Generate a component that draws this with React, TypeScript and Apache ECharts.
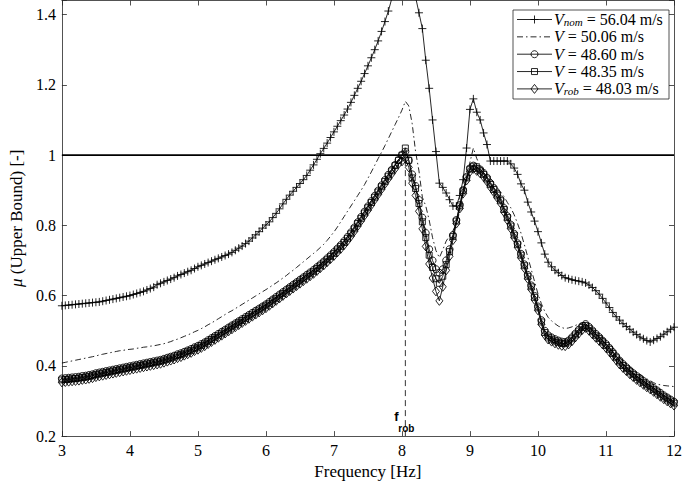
import React, { useEffect, useRef } from 'react';
import * as echarts from 'echarts';

// Frequency sampling grid (Hz), 0.05 Hz step from 3 to 12
const FREQ: number[] = Array.from({ length: 181 }, (_, i) => Math.round((3 + i * 0.05) * 100) / 100);

// V_nom = 56.04 m/s
const V_NOM = [
  0.571, 0.572, 0.573, 0.574, 0.575, 0.576, 0.577, 0.578, 0.579, 0.580,
  0.581, 0.582, 0.584, 0.586, 0.588, 0.590, 0.592, 0.594, 0.596, 0.598,
  0.600, 0.603, 0.606, 0.609, 0.612, 0.616, 0.620, 0.624, 0.631, 0.635,
  0.639, 0.643, 0.647, 0.651, 0.656, 0.660, 0.664, 0.668, 0.672, 0.677,
  0.682, 0.686, 0.690, 0.694, 0.698, 0.702, 0.706, 0.710, 0.714, 0.718,
  0.723, 0.729, 0.735, 0.741, 0.748, 0.755, 0.764, 0.773, 0.782, 0.792,
  0.801, 0.810, 0.822, 0.834, 0.847, 0.861, 0.874, 0.886, 0.897, 0.908,
  0.919, 0.930, 0.942, 0.957, 0.972, 0.988, 1.004, 1.019, 1.034, 1.050,
  1.066, 1.082, 1.098, 1.114, 1.131, 1.150, 1.170, 1.190, 1.210, 1.232,
  1.254, 1.277, 1.300, 1.325, 1.352, 1.380, 1.410, 1.445, 1.490, 1.530,
  1.570, 1.590, 1.560, 1.510, 1.450, 1.405, 1.360, 1.270, 1.190, 1.100,
  1.010, 0.920, 0.908, 0.892, 0.873, 0.855, 0.855, 0.885, 0.930, 1.020,
  1.130, 1.160, 1.122, 1.100, 1.063, 1.030, 0.983, 0.983, 0.983, 0.983,
  0.983, 0.983, 0.975, 0.963, 0.945, 0.918, 0.900, 0.866, 0.838, 0.812,
  0.782, 0.750, 0.718, 0.695, 0.682, 0.672, 0.665, 0.657, 0.651, 0.648,
  0.645, 0.643, 0.641, 0.639, 0.636, 0.630, 0.623, 0.614, 0.604, 0.592,
  0.579, 0.566, 0.552, 0.540, 0.530, 0.520, 0.512, 0.504, 0.496, 0.489,
  0.482, 0.477, 0.472, 0.468, 0.473, 0.478, 0.483, 0.490, 0.497, 0.504,
  0.510,
];

// V = 50.06 m/s
const V_5006 = [
  0.408, 0.410, 0.412, 0.414, 0.416, 0.418, 0.420, 0.422, 0.424, 0.426,
  0.428, 0.431, 0.433, 0.435, 0.437, 0.439, 0.441, 0.443, 0.444, 0.446,
  0.447, 0.448, 0.450, 0.451, 0.453, 0.454, 0.456, 0.457, 0.459, 0.461,
  0.463, 0.466, 0.469, 0.473, 0.476, 0.480, 0.484, 0.488, 0.492, 0.497,
  0.501, 0.506, 0.511, 0.517, 0.522, 0.528, 0.534, 0.540, 0.546, 0.552,
  0.557, 0.563, 0.569, 0.575, 0.581, 0.587, 0.593, 0.599, 0.605, 0.611,
  0.617, 0.623, 0.630, 0.636, 0.643, 0.650, 0.657, 0.665, 0.672, 0.680,
  0.688, 0.696, 0.704, 0.712, 0.720, 0.728, 0.737, 0.746, 0.757, 0.769,
  0.781, 0.795, 0.810, 0.825, 0.840, 0.855, 0.870, 0.885, 0.900, 0.916,
  0.934, 0.952, 0.971, 0.990, 1.008, 1.027, 1.047, 1.067, 1.087, 1.107,
  1.128, 1.153, 1.140, 1.090, 1.010, 0.955, 0.880, 0.855, 0.815, 0.765,
  0.728, 0.708, 0.730, 0.755, 0.770, 0.785, 0.805, 0.840, 0.880, 0.930,
  0.980, 1.020, 0.990, 0.970, 0.958, 0.946, 0.934, 0.922, 0.908, 0.895,
  0.882, 0.865, 0.850, 0.830, 0.805, 0.778, 0.745, 0.710, 0.675, 0.640,
  0.605, 0.577, 0.555, 0.538, 0.528, 0.520, 0.513, 0.509, 0.506, 0.508,
  0.511, 0.515, 0.519, 0.522, 0.524, 0.516, 0.505, 0.495, 0.487, 0.480,
  0.474, 0.465, 0.452, 0.438, 0.424, 0.414, 0.405, 0.397, 0.390, 0.383,
  0.376, 0.369, 0.363, 0.358, 0.352, 0.348, 0.346, 0.344, 0.343, 0.342,
  0.341,
];

// V = 48.60 m/s (circles)
const V_4860 = [
  0.364, 0.365, 0.366, 0.367, 0.368, 0.369, 0.371, 0.372, 0.374, 0.376,
  0.379, 0.381, 0.383, 0.385, 0.387, 0.389, 0.391, 0.393, 0.395, 0.397,
  0.399, 0.401, 0.403, 0.405, 0.407, 0.409, 0.411, 0.413, 0.415, 0.417,
  0.420, 0.423, 0.426, 0.429, 0.433, 0.436, 0.440, 0.444, 0.448, 0.453,
  0.457, 0.462, 0.467, 0.473, 0.479, 0.485, 0.491, 0.497, 0.503, 0.509,
  0.515, 0.521, 0.527, 0.533, 0.539, 0.545, 0.551, 0.557, 0.563, 0.569,
  0.575, 0.582, 0.589, 0.596, 0.603, 0.610, 0.617, 0.624, 0.631, 0.638,
  0.645, 0.652, 0.659, 0.666, 0.673, 0.681, 0.689, 0.697, 0.706, 0.715,
  0.724, 0.734, 0.744, 0.755, 0.767, 0.780, 0.794, 0.809, 0.824, 0.839,
  0.854, 0.869, 0.884, 0.899, 0.914, 0.929, 0.944, 0.958, 0.972, 0.986,
  1.000, 1.010, 0.985, 0.945, 0.912, 0.872, 0.822, 0.778, 0.732, 0.700,
  0.675, 0.665, 0.675, 0.700, 0.732, 0.772, 0.815, 0.858, 0.900, 0.938,
  0.962, 0.970, 0.966, 0.959, 0.949, 0.936, 0.920, 0.906, 0.890, 0.874,
  0.849, 0.826, 0.802, 0.776, 0.749, 0.719, 0.689, 0.659, 0.629, 0.599,
  0.569, 0.530, 0.500, 0.487, 0.481, 0.476, 0.472, 0.469, 0.468, 0.472,
  0.481, 0.492, 0.503, 0.513, 0.519, 0.511, 0.501, 0.491, 0.482, 0.472,
  0.462, 0.451, 0.439, 0.427, 0.415, 0.405, 0.396, 0.387, 0.379, 0.371,
  0.364, 0.357, 0.350, 0.344, 0.337, 0.330, 0.323, 0.316, 0.310, 0.304,
  0.298,
];

// V = 48.35 m/s (squares)
const V_4835 = [
  0.360, 0.361, 0.362, 0.363, 0.364, 0.365, 0.367, 0.368, 0.370, 0.372,
  0.375, 0.377, 0.379, 0.381, 0.383, 0.385, 0.387, 0.389, 0.391, 0.393,
  0.395, 0.397, 0.399, 0.401, 0.403, 0.405, 0.407, 0.409, 0.411, 0.413,
  0.416, 0.419, 0.422, 0.425, 0.429, 0.432, 0.436, 0.440, 0.444, 0.449,
  0.453, 0.458, 0.463, 0.469, 0.475, 0.481, 0.487, 0.493, 0.499, 0.505,
  0.511, 0.517, 0.523, 0.529, 0.535, 0.541, 0.547, 0.553, 0.559, 0.565,
  0.571, 0.578, 0.585, 0.592, 0.599, 0.606, 0.613, 0.620, 0.627, 0.634,
  0.641, 0.648, 0.655, 0.662, 0.669, 0.677, 0.685, 0.693, 0.702, 0.711,
  0.720, 0.730, 0.740, 0.751, 0.763, 0.776, 0.790, 0.805, 0.820, 0.835,
  0.850, 0.865, 0.880, 0.895, 0.910, 0.925, 0.940, 0.955, 0.970, 0.985,
  1.000, 1.020, 0.985, 0.935, 0.905, 0.862, 0.810, 0.765, 0.715, 0.680,
  0.648, 0.635, 0.655, 0.688, 0.725, 0.768, 0.812, 0.855, 0.898, 0.935,
  0.960, 0.968, 0.962, 0.955, 0.945, 0.932, 0.916, 0.902, 0.886, 0.870,
  0.845, 0.822, 0.798, 0.772, 0.745, 0.715, 0.685, 0.655, 0.625, 0.595,
  0.565, 0.525, 0.495, 0.482, 0.476, 0.471, 0.467, 0.464, 0.463, 0.468,
  0.477, 0.488, 0.499, 0.509, 0.515, 0.507, 0.497, 0.487, 0.478, 0.468,
  0.458, 0.447, 0.435, 0.423, 0.411, 0.401, 0.392, 0.383, 0.375, 0.367,
  0.360, 0.353, 0.346, 0.340, 0.333, 0.326, 0.319, 0.312, 0.306, 0.300,
  0.294,
];

// V_rob = 48.03 m/s (diamonds)
const V_ROB = [
  0.353, 0.354, 0.355, 0.356, 0.357, 0.358, 0.360, 0.361, 0.363, 0.365,
  0.368, 0.370, 0.372, 0.374, 0.376, 0.378, 0.380, 0.382, 0.384, 0.386,
  0.388, 0.390, 0.392, 0.394, 0.396, 0.398, 0.400, 0.402, 0.404, 0.406,
  0.409, 0.412, 0.415, 0.418, 0.422, 0.425, 0.429, 0.433, 0.437, 0.442,
  0.446, 0.451, 0.456, 0.462, 0.468, 0.474, 0.480, 0.486, 0.492, 0.498,
  0.504, 0.510, 0.516, 0.522, 0.528, 0.534, 0.540, 0.546, 0.552, 0.558,
  0.564, 0.571, 0.578, 0.585, 0.592, 0.599, 0.606, 0.613, 0.620, 0.627,
  0.634, 0.641, 0.648, 0.655, 0.662, 0.670, 0.678, 0.686, 0.695, 0.704,
  0.713, 0.723, 0.733, 0.744, 0.756, 0.769, 0.783, 0.798, 0.813, 0.828,
  0.843, 0.858, 0.873, 0.888, 0.903, 0.918, 0.933, 0.947, 0.961, 0.975,
  0.982, 0.990, 0.965, 0.920, 0.885, 0.840, 0.790, 0.740, 0.690, 0.650,
  0.612, 0.585, 0.625, 0.672, 0.712, 0.758, 0.805, 0.848, 0.891, 0.928,
  0.953, 0.961, 0.955, 0.948, 0.938, 0.925, 0.909, 0.895, 0.879, 0.863,
  0.838, 0.815, 0.791, 0.765, 0.738, 0.708, 0.678, 0.648, 0.618, 0.588,
  0.558, 0.518, 0.488, 0.475, 0.469, 0.464, 0.460, 0.457, 0.456, 0.461,
  0.470, 0.481, 0.492, 0.502, 0.508, 0.500, 0.490, 0.480, 0.471, 0.461,
  0.451, 0.440, 0.428, 0.416, 0.404, 0.394, 0.385, 0.376, 0.368, 0.360,
  0.353, 0.346, 0.339, 0.333, 0.326, 0.319, 0.312, 0.305, 0.299, 0.293,
  0.287,
];

const F_ROB = 8.05;
const F_ROB_TOP = 1.0;
const THRESHOLD = 1;
const X_MIN = 3, X_MAX = 12, X_STEP = 1;
const Y_MIN = 0.2, Y_MAX = 1.44, Y_STEP = 0.2;

const LEGEND_LABELS = [
  '{i|V}{s|nom}{t| = 56.04 m/s}',
  '{i|V}{t| = 50.06 m/s}',
  '{i|V}{t| = 48.60 m/s}',
  '{i|V}{t| = 48.35 m/s}',
  '{i|V}{s|rob}{t| = 48.03 m/s}',
];
const SERIES_NAMES = [
  'V_nom = 56.04 m/s',
  'V = 50.06 m/s',
  'V = 48.60 m/s',
  'V = 48.35 m/s',
  'V_rob = 48.03 m/s',
];

const SERIF = '"Liberation Serif", "DejaVu Serif", serif';
const PLUS = 'path://M5 0L5 10M0 5L10 5';

export default function App() {
  const ref = useRef<HTMLDivElement>(null);
  useEffect(() => {
    const chart = echarts.init(ref.current!, null, { renderer: 'svg' });
    const pairs = (arr: number[]) => FREQ.map((f, i) => [f, arr[i]]);
    const markerStyle = { color: 'rgba(0,0,0,0)', borderColor: '#000', borderWidth: 0.85 };
    const lineBase = (name: string, arr: number[], symbol: string, size: any, extra: any = {}) => ({
      type: 'line',
      name,
      data: pairs(arr),
      symbol,
      symbolSize: size,
      showSymbol: symbol !== 'none',
      showAllSymbol: true,
      color: '#000',
      itemStyle: markerStyle,
      lineStyle: { color: '#000', width: 0.85, ...(extra.lineStyle || {}) },
      clip: true,
      silent: true,
      z: 2,
    });

    const axisCommon = {
      axisLine: { show: true, onZero: false, lineStyle: { color: '#262626', width: 0.8 } },
      axisTick: { show: true, inside: true, length: 5, lineStyle: { color: '#262626', width: 0.8 } },
      splitLine: { show: false },
    };

    const option: any = {
      animation: false,
      backgroundColor: '#fff',
      textStyle: { fontFamily: SERIF, color: '#000' },
      grid: { left: 48, right: 7, top: 0.5, bottom: 43, containLabel: false },
      xAxis: [
        {
          ...axisCommon,
          type: 'value', min: X_MIN, max: X_MAX, interval: X_STEP, position: 'bottom',
          axisLabel: { color: '#000', fontFamily: SERIF, fontSize: 16, margin: 6 },
          name: 'Frequency [Hz]', nameLocation: 'middle', nameGap: 25,
          nameTextStyle: { color: '#000', fontFamily: SERIF, fontSize: 17 },
        },
        {
          ...axisCommon,
          type: 'value', min: X_MIN, max: X_MAX, interval: X_STEP, position: 'top',
          axisLabel: { show: false },
        },
      ],
      yAxis: [
        {
          ...axisCommon,
          type: 'value', min: Y_MIN, max: Y_MAX, interval: Y_STEP, position: 'left',
          axisLabel: {
            color: '#000', fontFamily: SERIF, fontSize: 16, margin: 6,
            formatter: (v: number) => (Math.abs(v / Y_STEP - Math.round(v / Y_STEP)) < 1e-6 ? String(Math.round(v * 10) / 10) : ''),
          },
          name: '{m|μ}{n| (Upper Bound) [-]}', nameLocation: 'middle', nameGap: 29, nameRotate: 90,
          nameTextStyle: {
            color: '#000', fontFamily: SERIF, fontSize: 17,
            rich: {
              m: { fontFamily: SERIF, fontSize: 17, fontStyle: 'italic', color: '#000' },
              n: { fontFamily: SERIF, fontSize: 17, color: '#000' },
            },
          },
        },
        {
          ...axisCommon,
          type: 'value', min: Y_MIN, max: Y_MAX, interval: Y_STEP, position: 'right',
          axisLabel: { show: false },
        },
      ],
      series: [
        {
          type: 'line', name: 'threshold', data: [[X_MIN, THRESHOLD], [X_MAX, THRESHOLD]],
          symbol: 'none', lineStyle: { color: '#000', width: 1.8 }, silent: true, z: 1,
        },
        {
          type: 'line', name: 'f_rob', data: [[F_ROB, Y_MIN], [F_ROB, F_ROB_TOP]],
          symbol: 'none', lineStyle: { color: '#000', width: 0.8, type: [6, 4] }, silent: true, z: 1,
        },
        lineBase(SERIES_NAMES[0], V_NOM, PLUS, 8),
        lineBase(SERIES_NAMES[1], V_5006, 'none', 0, { lineStyle: { type: [6, 3, 1.5, 3] } }),
        lineBase(SERIES_NAMES[2], V_4860, 'circle', 7),
        lineBase(SERIES_NAMES[3], V_4835, 'rect', 6),
        lineBase(SERIES_NAMES[4], V_ROB, 'diamond', [7, 9]),
      ],
    };
    chart.setOption(option);

    // f_rob label anchored to the dashed line's foot
    const foot = chart.convertToPixel({ xAxisIndex: 0, yAxisIndex: 0 }, [F_ROB, Y_MIN]) as number[];

    // Legend box
    const bx = 513, by = 10, bw = 156, bh = 89;
    const rowY0 = 19.5, pitch = 17.35;
    const lx0 = 517, lx1 = 552, mx = 534.5, tx = 554;
    const g: any[] = [];
    g.push({ type: 'rect', shape: { x: bx, y: by, width: bw, height: bh }, style: { fill: '#fff', stroke: '#262626', lineWidth: 0.8 }, z: 100 });
    const mstroke = { fill: 'none', stroke: '#000', lineWidth: 0.85 };
    LEGEND_LABELS.forEach((lab, k) => {
      const cy = rowY0 + k * pitch;
      g.push({
        type: 'line', shape: { x1: lx0, y1: cy, x2: lx1, y2: cy },
        style: { stroke: '#000', lineWidth: 0.85, lineDash: k === 1 ? [6, 3, 1.5, 3] : null }, z: 101,
      });
      if (k === 0) {
        g.push({ type: 'line', shape: { x1: mx - 4, y1: cy, x2: mx + 4, y2: cy }, style: mstroke, z: 102 });
        g.push({ type: 'line', shape: { x1: mx, y1: cy - 4, x2: mx, y2: cy + 4 }, style: mstroke, z: 102 });
      } else if (k === 2) {
        g.push({ type: 'circle', shape: { cx: mx, cy, r: 3.5 }, style: mstroke, z: 102 });
      } else if (k === 3) {
        g.push({ type: 'rect', shape: { x: mx - 3, y: cy - 3, width: 6, height: 6 }, style: mstroke, z: 102 });
      } else if (k === 4) {
        g.push({ type: 'polygon', shape: { points: [[mx, cy - 4.5], [mx + 3.5, cy], [mx, cy + 4.5], [mx - 3.5, cy]] }, style: mstroke, z: 102 });
      }
      g.push({
        type: 'text', x: tx, y: cy, z: 102,
        style: {
          text: lab, verticalAlign: 'middle', align: 'left',
          fill: '#000', fontFamily: SERIF, fontSize: 16,
          rich: {
            i: { fontFamily: SERIF, fontSize: 16, fontStyle: 'italic', lineHeight: 16, fill: '#000' },
            s: { fontFamily: SERIF, fontSize: 11, fontStyle: 'italic', lineHeight: 10, verticalAlign: 'bottom', fill: '#000' },
            t: { fontFamily: SERIF, fontSize: 16, lineHeight: 16, fill: '#000' },
          },
        },
      });
    });
    g.push({
      type: 'text', x: foot[0] - 9, y: foot[1] - 20, z: 50,
      style: { text: 'f', align: 'center', verticalAlign: 'middle', fill: '#000', fontFamily: '"Liberation Sans", Arial, sans-serif', fontWeight: 'bold', fontSize: 13 },
    });
    g.push({
      type: 'text', x: foot[0] + 1, y: foot[1] - 8, z: 50,
      style: { text: 'rob', align: 'center', verticalAlign: 'middle', fill: '#000', fontFamily: '"Liberation Sans", Arial, sans-serif', fontWeight: 'bold', fontSize: 10 },
    });
    chart.setOption({ graphic: g });

    return () => chart.dispose();
  }, []);
  return <div ref={ref} style={{ position: 'absolute', left: 0, top: 0, width: 685, height: 485 }} />;
}
